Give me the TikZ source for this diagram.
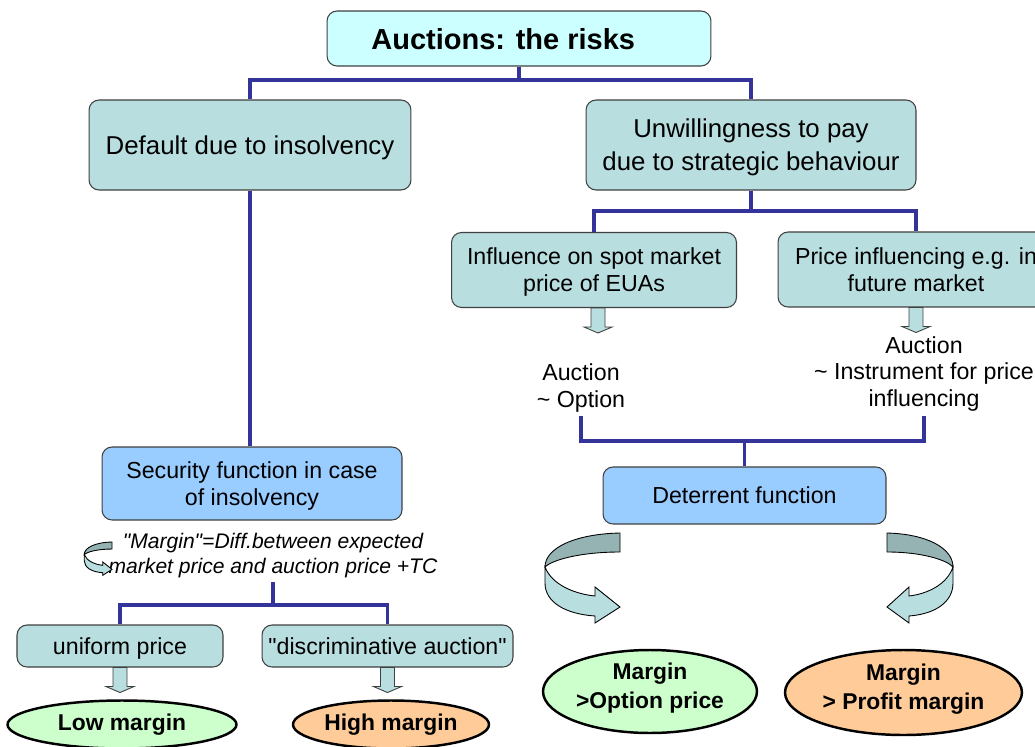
\documentclass[tikz,border=0pt]{standalone}
\usepackage{fontspec}
\setmainfont{Liberation Sans}[Ligatures=TeXOff]
\usetikzlibrary{shapes.geometric,calc}
\definecolor{titlefill}{HTML}{CCFFFF}
\definecolor{tealfill}{HTML}{B8DEE0}
\definecolor{bluefill}{HTML}{99CCFF}
\definecolor{linecol}{HTML}{333399}
\definecolor{greenfill}{HTML}{CCFFCC}
\definecolor{orangefill}{HTML}{FFCC99}
\definecolor{darkrib}{HTML}{95B3B3}
\definecolor{edgecol}{HTML}{404040}
\begin{document}
\begin{tikzpicture}[x=0.02cm,y=-0.02cm,
  box/.style={draw=edgecol,line width=0.6pt,rounded corners=0.2cm,align=center,inner sep=0pt,text depth=0pt},
  big/.style={font=\fontsize{14.7}{18.7}\selectfont},
  mid/.style={font=\fontsize{13.2}{15.3}\selectfont},
  conn/.style={draw=linecol,line width=2pt},
  oval/.style={ellipse,draw=black,line width=1.4pt,align=center,inner sep=0pt,font=\bfseries\fontsize{13}{16.5}\selectfont},
  ribbon/.pic={
    \filldraw[fill=darkrib,draw=black,line width=0.5pt] (0,0) .. controls (-45,1) and (-75,15) .. (-75,34) .. controls (-68,27) and (-40,19) .. (0,19) -- cycle;
    \filldraw[fill=tealfill,draw=black,line width=0.5pt] (-75,34) .. controls (-68,52) and (-45,61) .. (-25,63) -- (-25,54) -- (0,74) -- (-25,90) -- (-25,83) .. controls (-55,81) and (-75,69) .. (-75,50) -- cycle;
  },
  downarr/.pic={
    \filldraw[fill=tealfill,draw=edgecol,line width=0.5pt] (-7,0) -- (7,0) -- (7,19) -- (14,19) -- (0,25) -- (-14,19) -- (-7,19) -- cycle;
  }
]
\clip (0,0) rectangle (1035,747);
\fill[white] (0,0) rectangle (1035,747);

% nodes
\node[box,fill=titlefill,minimum width=7.68cm,minimum height=1.1cm,font=\bfseries\fontsize{16.5}{20}\selectfont] (title) at (519,38.5) {Auctions: the risks\hspace*{18pt}};
\node[box,big,fill=tealfill,minimum width=6.44cm,minimum height=1.8cm] (default) at (250,145) {Default due to insolvency};
\node[box,big,fill=tealfill,minimum width=6.6cm,minimum height=1.8cm] (unwill) at (751,145) {Unwillingness to pay\\due to strategic behaviour};
\node[box,mid,fill=tealfill,minimum width=5.7cm,minimum height=1.5cm] (infl) at (594,270) {Influence on spot market\\price of EUAs};
\node[box,mid,fill=tealfill,minimum width=5.52cm,minimum height=1.5cm] (price) at (916,269.5) {Price influencing e.g. in\\future market};
\node[mid,align=center,inner sep=2pt] (auc1) at (581,388) {Auction\\\textasciitilde{} Option};
\node[mid,align=center,inner sep=2pt] (auc2) at (924,374) {Auction\\\textasciitilde{} Instrument for price\\influencing};
\node[box,mid,fill=bluefill,minimum width=6cm,minimum height=1.46cm] (secur) at (252,483.5) {Security function in case\\of insolvency};
\node[box,mid,fill=bluefill,minimum width=5.66cm,minimum height=1.14cm] (deter) at (744.5,495.5) {Deterrent function};
\node[font=\itshape\fontsize{12}{14.2}\selectfont,align=center,inner sep=2pt] (marg) at (273,556) {"Margin"=Diff.between expected\\market price and auction price +TC};
\node[box,mid,fill=tealfill,minimum width=4.12cm,minimum height=0.84cm] (uni) at (120,646) {uniform price};
\node[box,mid,fill=tealfill,minimum width=5.02cm,minimum height=0.84cm] (disc) at (387.5,646) {"discriminative auction"};
\node[oval,fill=greenfill,minimum width=4.58cm,minimum height=0.96cm] (low) at (122,724.5) {Low margin};
\node[oval,fill=orangefill,minimum width=3.92cm,minimum height=0.96cm] (high) at (391,724.5) {High margin};
\node[oval,fill=greenfill,minimum width=4.28cm,minimum height=1.66cm,text depth=7pt] (opt) at (650,691.5) {Margin\\>Option price};
\node[oval,fill=orangefill,minimum width=4.74cm,minimum height=1.7cm,text depth=7pt] (prof) at (903.5,692.5) {Margin\\> Profit margin};

% connectors
\coordinate (j1) at (519,80);
\draw[conn] (title.south) -- (j1);
\draw[conn] (default.north) |- (j1) -| (unwill.north);
\draw[conn] (default.south) -- (default.south |- secur.north);
\coordinate (j2) at (751,211);
\draw[conn] (unwill.south) -- (j2);
\draw[conn] (infl.north) |- (j2) -| (price.north);
\coordinate (j3) at (744.5,441);
\draw[conn] (auc1.south) |- (j3) -| (auc2.south);
\draw[conn] (j3) -- (deter.north);
\coordinate (j4) at (273,605);
\draw[conn] (marg.south) -- (j4);
\draw[conn] (uni.north) |- (j4) -| (disc.north);

% block arrows
\pic at ([xshift=0.08cm]infl.south) {downarr};
\pic at (price.south) {downarr};
\pic at (uni.south) {downarr};
\pic at (disc.south) {downarr};

% ribbon arrows
\pic at (620,533) {ribbon};
\pic[xscale=-0.88] at (887,533) {ribbon};
\pic[scale=0.37] at (112,542) {ribbon};
\end{tikzpicture}
\end{document}
